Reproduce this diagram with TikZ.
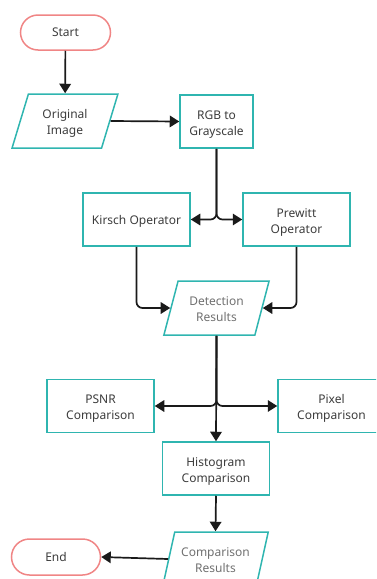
\documentclass[tikz,border=0pt]{standalone}
\usepackage{fontspec}
\setmainfont{Noto Sans}
\usetikzlibrary{arrows.meta,shapes.geometric,shapes.misc}
\definecolor{teal2}{HTML}{2FB5B0}
\definecolor{salmon}{HTML}{F08585}
\definecolor{txt}{HTML}{3C3C3C}
\definecolor{txtl}{HTML}{707070}
\definecolor{ln}{HTML}{1A1A1A}
\newcommand\lbl[2][2.5pt]{\raisebox{-#1}[\height][\depth]{\begin{tabular}{@{}c@{}}#2\end{tabular}}}
\tikzset{
  base/.style={font=\fontsize{12}{16}\selectfont, text=txt, align=center, inner sep=0pt, line width=1.5pt},
  term/.style={base, draw=salmon, rounded rectangle, minimum width=90pt, minimum height=35pt},
  procbox/.style={base, draw=teal2, rectangle, minimum width=107pt, minimum height=53pt},
  iobox/.style={base, draw=teal2, trapezium, trapezium left angle=72.5, trapezium right angle=107.5,
     trapezium stretches=true, minimum width=106pt, minimum height=54pt},
  conn/.style={draw=ln, line width=1.7pt, -{Triangle[length=9.5pt,width=11.5pt]}, rounded corners=6pt},
}
\begin{document}
\begin{tikzpicture}[x=1pt,y=-1pt]
\useasboundingbox (0,0) rectangle (376,579);
\clip (0,0) rectangle (376,579);
\node[term] (start) at (65.5,32.5) {Start};
\node[iobox] (orig) at (65,121) {\lbl{Original\\Image}};
\node[procbox, minimum width=73pt] (rgb) at (216.5,121.5) {\lbl{RGB to\\Grayscale}};
\node[procbox] (kirsch) at (136.5,219.5) {\lbl[1.5pt]{Kirsch Operator}};
\node[procbox] (prewitt) at (296.5,219.5) {\lbl{Prewitt\\Operator}};
\node[iobox, text=txtl] (det) at (216.5,308) {\lbl{Detection\\Results}};
\node[procbox] (psnr) at (100.5,406) {\lbl{PSNR\\Comparison}};
\node[procbox] (pixel) at (331.5,406) {\lbl{Pixel\\Comparison}};
\node[procbox] (hist) at (216,468.5) {\lbl{Histogram\\Comparison}};
\node[iobox, text=txtl] (comp) at (215.5,559) {\lbl{Comparison\\Results}};
\node[term, minimum width=89pt, minimum height=36pt] (end) at (56,557) {End};

\draw[conn] (start) -- (orig);
\draw[conn] (orig.east) -- (rgb.west);
\draw[conn] (rgb.south) |- (kirsch.east);
\draw[conn] (rgb.south) |- (prewitt.west);
\draw[conn] (kirsch.south) |- (det.west);
\draw[conn] (prewitt.south) |- (det.east);
\draw[conn] (det.south) |- (psnr.east);
\draw[conn] (det.south) |- (pixel.west);
\draw[conn] (det.south) -- (hist.north);
\draw[conn] (hist.south) -- (comp.north);
\draw[conn] (comp.west) -- (end.east);
\end{tikzpicture}
\end{document}
